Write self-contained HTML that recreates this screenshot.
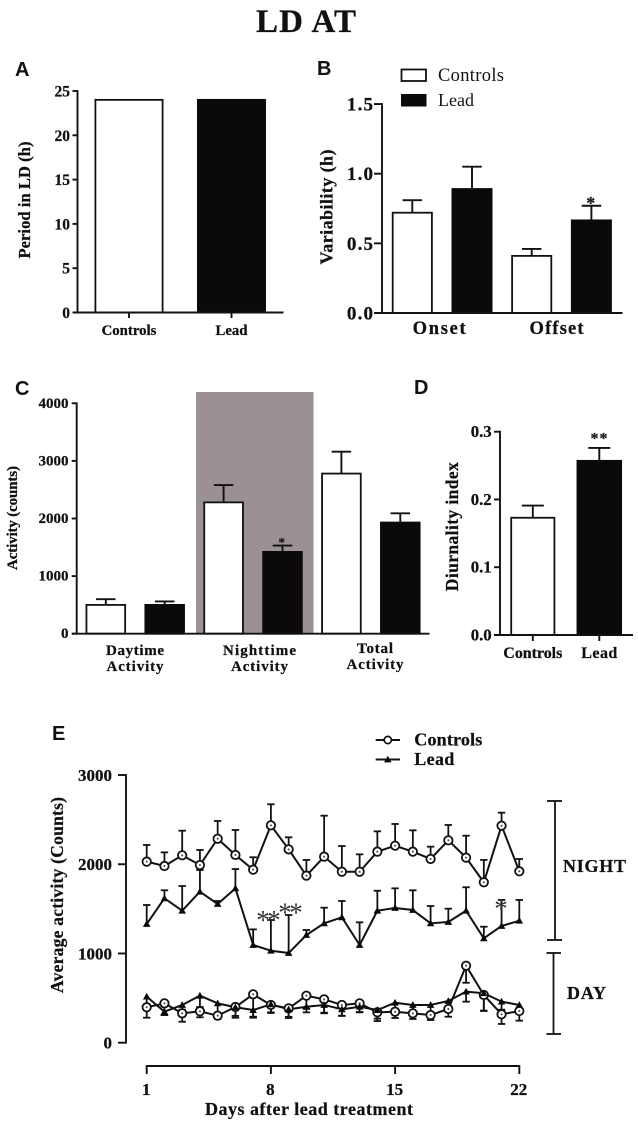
<!DOCTYPE html>
<html>
<head>
<meta charset="utf-8">
<title>LD AT</title>
<style>
html,body{margin:0;padding:0;background:#fff;width:638px;height:1125px;overflow:hidden}
svg{display:block;filter:blur(0.35px)}
text{font-family:"Liberation Serif",serif;fill:#111}
text[font-weight="700"]{stroke:#111;stroke-width:0.25px}
.letter{font-family:"Liberation Sans",sans-serif;font-weight:700;font-size:20px}
</style>
</head>
<body>
<svg id="fig" xmlns="http://www.w3.org/2000/svg" width="638" height="1125" viewBox="0 0 638 1125">
  <text x="306" y="32" text-anchor="middle" font-size="33" font-weight="700" textLength="100">LD AT</text>
  <g id="panelA"><text class="letter" x="15" y="76">A</text></g>
  <g id="panelB"><text class="letter" x="317" y="75">B</text></g>
  <g id="panelC">
    <rect x="196" y="392" width="117.500" height="242" fill="#9b9193"></rect>
    <text class="letter" x="15" y="395">C</text>
  </g>
  <g id="panelD"><text class="letter" x="414" y="394">D</text></g>
  <g id="panelE">
    <text class="letter" x="52" y="740">E</text>
    <g stroke="#111" stroke-width="1.8">
      <line x1="555" y1="801" x2="555" y2="940"></line>
      <line x1="547" y1="801" x2="562" y2="801"></line>
      <line x1="547" y1="940" x2="562" y2="940"></line>
    </g>
    <text x="563" y="872" font-size="18" font-weight="700" textLength="63">NIGHT</text>
    <g stroke="#111" stroke-width="1.8">
      <line x1="553.500" y1="953" x2="553.500" y2="1034"></line>
      <line x1="546.500" y1="953" x2="561" y2="953"></line>
      <line x1="546.500" y1="1034" x2="561" y2="1034"></line>
    </g>
    <text x="567" y="999" font-size="18" font-weight="700" textLength="39">DAY</text>
  </g>
</svg>
<script>
// Panel A data
const aCategories = ['Controls', 'Lead'];
const aValues = [24, 24];
const aTicks = ['0', '5', '10', '15', '20', '25'];
// Panel B data
const bGroups = ['Onset', 'Offset'];
const bValues = [0.72, 0.89, 0.41, 0.665];
const bUpper = [0.81, 1.05, 0.46, 0.77];
const bTicks = ['0.0', '0.5', '1.0', '1.5'];
// Panel C data
const cGroups = [['Daytime', 'Activity'], ['Nighttime', 'Activity'], ['Total', 'Activity']];
const cValues = [500, 500, 2280, 1420, 2780, 1930];
const cUpper = [600, 560, 2580, 1530, 3160, 2090];
const cTicks = ['0', '1000', '2000', '3000', '4000'];
// Panel D data
const dCategories = ['Controls', 'Lead'];
const dValues = [0.173, 0.257];
const dUpper = [0.191, 0.276];
const dTicks = ['0.0', '0.1', '0.2', '0.3'];
// Panel E data
const eDays = [1, 2, 3, 4, 5, 6, 7, 8, 9, 10, 11, 12, 13, 14, 15, 16, 17, 18, 19, 20, 21, 22];
const eDayTicks = ['1', '8', '15', '22'];
const eYTicks = ['0', '1000', '2000', '3000'];
const controlsNight = [2029, 1980, 2100, 1991, 2286, 2104, 1939, 2436, 2167, 1872, 2085, 1916, 1916, 2141, 2208, 2141, 2059, 2268, 2074, 1798, 2432, 1921];
const controlsNightUpper = [2216, 2133, 2376, 2160, 2485, 2384, 2078, 2672, 2302, 2048, 2544, 2204, 2111, 2369, 2451, 2380, 2197, 2440, 2320, 2048, 2578, 2059];
const leadNight = [1330, 1618, 1479, 1692, 1554, 1730, 1095, 1031, 1005, 1207, 1338, 1405, 1095, 1479, 1510, 1487, 1338, 1353, 1479, 1170, 1308, 1367];
const leadNightUpper = [1543, 1708, 1756, 1935, 1588, 1946, 1270, 1375, 1431, 1263, 1513, 1588, 1349, 1703, 1730, 1708, 1532, 1502, 1742, 1300, 1600, 1600];
const controlsDay = [397, 441, 329, 352, 303, 400, 542, 423, 385, 527, 486, 423, 441, 341, 347, 329, 310, 378, 863, 535, 318, 355];
const controlsDayLower = [280, 310, 235, 285, 266, 280, 280, 333, 277, 380, 336, 303, 344, 243, 277, 266, 254, 291, 672, 355, 210, 247];
const leadDay = [516, 347, 423, 527, 441, 397, 366, 430, 374, 403, 423, 374, 403, 366, 448, 423, 423, 467, 572, 554, 460, 423];
const leadDayLower = [430, 310, 370, 400, 320, 300, 291, 340, 290, 340, 330, 300, 340, 270, 380, 330, 340, 380, 460, 360, 370, 340];

const SVGNS = 'http://www.w3.org/2000/svg';
const INK = '#111';

function mk(tag, attrs, parent) {
  const el = document.createElementNS(SVGNS, tag);
  for (const k in attrs) el.setAttribute(k, attrs[k]);
  parent.appendChild(el);
  return el;
}
function drawLine(parent, x1, y1, x2, y2, name, width) {
  const el = mk('line', { x1: x1, y1: y1, x2: x2, y2: y2, stroke: INK, 'stroke-width': width || 1.9 }, parent);
  
  
  return el;
}
function drawText(parent, x, y, str, size, o, name) {
  o = o || {};
  const attrs = { x: x, y: y, 'font-size': size, 'text-anchor': o.anchor || 'middle', 'font-weight': o.weight || 700 };
  if (o.len) attrs.textLength = o.len;
  if (o.rotate) attrs.transform = 'rotate(-90 ' + x + ' ' + y + ')';
  const el = mk('text', attrs, parent);
  el.textContent = str;
  if (o.fill) el.style.fill = o.fill;
  
  
  return el;
}
function drawYAxis(parent, axisX, yFn, labels, tickLen, labelRight, size, baseOffset, len) {
  const vals = labels.map(Number);
  const top = yFn(Math.max.apply(null, vals));
  const bottom = yFn(Math.min.apply(null, vals));
  drawLine(parent, axisX, top - 0.9, axisX, bottom + 0.9, 'y-axis-line');
  labels.forEach(function (lab) {
    const y = yFn(Number(lab));
    drawLine(parent, axisX - tickLen, y, axisX, y, 'y-axis-tick');
    drawText(parent, labelRight, y + baseOffset, lab, size, { anchor: 'end', len: len ? len * lab.length : 0 }, 'y-axis-tick-label');
  });
}
function drawBar(parent, cx, width, yFn, value, upper, black, capWidth) {
  const y0 = yFn(0);
  const yv = yFn(value);
  if (upper !== null) {
    drawLine(parent, cx, yv, cx, yFn(upper), 'error-bar-stem');
    drawLine(parent, cx - capWidth / 2, yFn(upper), cx + capWidth / 2, yFn(upper), 'error-bar-cap');
  }
  const el = mk('rect', {
    x: cx - width / 2 + 0.9, y: yv, width: width - 1.8, height: y0 - yv,
    fill: black ? '#0b0a09' : '#fff', stroke: black ? '#0b0a09' : INK, 'stroke-width': 1.8
  }, parent);
  
  
}

/* ---------- Panel A ---------- */
const pA = document.getElementById('panelA');
const yA = function (v) { return 312.5 - v * 8.86; };
const xA = function (i) { return 129 + 102.5 * i; };
aValues.forEach(function (v, i) {
  drawBar(pA, xA(i), 69, yA, v, null, i === 1, 0);
  drawLine(pA, xA(i), 312.5, xA(i), 318, 'x-axis-tick');
  drawText(pA, xA(i), 335, aCategories[i], 14.8, {}, 'x-axis-category-label');
});
drawYAxis(pA, 77.5, yA, aTicks, 5, 70, 15.5, 5.5);
drawLine(pA, 72.5, 312.5, 283.5, 312.5, 'x-axis-line');
drawText(pA, 30, 200, 'Period in LD (h)', 16.5, { rotate: true, len: 117 }, 'y-axis-title');

/* ---------- Panel B ---------- */
const pB = document.getElementById('panelB');
const yB = function (v) { return 313 - v * 139.3; };
const xB = function (i) { return 412.3 + 59.7 * i; };
bValues.forEach(function (v, i) {
  drawBar(pB, xB(i), 41, yB, v, bUpper[i], i % 2 === 1, 19.5);
});
drawYAxis(pB, 382, yB, bTicks, 8, 373, 19, 6.5, 8.7);
drawLine(pB, 375, 313, 622.5, 313, 'x-axis-line');
bGroups.forEach(function (g, i) {
  drawText(pB, (xB(i * 2) + xB(i * 2 + 1)) / 2 - 3 + i * -2, 334, g, 18.5, { len: i ? 54 : 53 }, 'x-axis-group-label');
});
drawText(pB, 332.5, 207, 'Variability (h)', 18, { rotate: true, len: 115 }, 'y-axis-title');
drawText(pB, 590.7, 209, '*', 18, { fill: '#222' }, 'significance-star');
const bLegend1 = mk('rect', { x: 401.5, y: 69.5, width: 24.5, height: 11.5, fill: '#fff', stroke: INK, 'stroke-width': 1.8 }, pB);


const bLegend2 = mk('rect', { x: 401, y: 94, width: 25.5, height: 12.5, fill: '#0b0a09' }, pB);


drawText(pB, 438, 81, 'Controls', 18.5, { anchor: 'start', weight: 400, len: 66 }, 'legend-label-controls');
drawText(pB, 438, 106, 'Lead', 18, { anchor: 'start', weight: 400, len: 36 }, 'legend-label-lead');

/* ---------- Panel C ---------- */
const pC = document.getElementById('panelC');
const yC = function (v) { return 633.7 - v * 0.0576; };
const xC = function (i) { return 105.8 + 58.9 * i; };
cValues.forEach(function (v, i) {
  drawBar(pC, xC(i), 40.5, yC, v, cUpper[i], i % 2 === 1, 19.5);
});
drawYAxis(pC, 76.7, yC, cTicks, 5, 68.5, 15, 4.5);
drawLine(pC, 72, 633.7, 429.5, 633.7, 'x-axis-line');
const cLabelX = [135, 259.5, 375];
const cLabelY = [655, 655, 653];
cGroups.forEach(function (g, i) {
  drawText(pC, cLabelX[i], cLabelY[i], g[0], 15, { len: [58, 73, 36][i] }, 'x-axis-group-label');
  drawText(pC, cLabelX[i], cLabelY[i] + 16, g[1], 15, { len: 57 }, 'x-axis-group-label');
});
drawText(pC, 17, 518, 'Activity (counts)', 15, { rotate: true, len: 104 }, 'y-axis-title');
drawText(pC, 281.7, 546.5, '*', 13, { fill: '#222' }, 'significance-star');

/* ---------- Panel D ---------- */
const pD = document.getElementById('panelD');
const yD = function (v) { return 635 - v * 677.7; };
const xD = function (i) { return 532.8 + 66.5 * i; };
dValues.forEach(function (v, i) {
  drawBar(pD, xD(i), i ? 45.5 : 45, yD, v, dUpper[i], i === 1, 22);
  drawLine(pD, xD(i), 635, xD(i), 641, 'x-axis-tick');
  drawText(pD, xD(i), 658, dCategories[i], 16, { len: i ? 36 : 59 }, 'x-axis-category-label');
});
drawYAxis(pD, 500, yD, dTicks, 6, 491.7, 16.8, 5.5);
drawLine(pD, 494, 635, 633, 635, 'x-axis-line');
drawText(pD, 458, 526.7, 'Diurnality index', 17.5, { rotate: true, len: 129 }, 'y-axis-title');
drawText(pD, 599, 443.5, '**', 16, { fill: '#222', len: 17 }, 'significance-star');

/* ---------- Panel E ---------- */
const pE = document.getElementById('panelE');
const yE = function (v) { return 1042.7 - v * 0.08923; };
const xE = function (d) { return 146.7 + (d - 1) * 17.743; };

drawYAxis(pE, 126, yE, eYTicks, 8, 112, 17, 6, 0);
drawLine(pE, xE(1) - 0.9, 1066, xE(22) + 0.9, 1066, 'x-axis-line');
eDayTicks.forEach(function (lab) {
  const x = xE(Number(lab));
  drawLine(pE, x, 1066, x, 1074, 'x-axis-tick');
  drawText(pE, x - 0.5, 1095, lab, 17, {}, 'x-axis-tick-label');
});
drawText(pE, 309, 1115, 'Days after lead treatment', 18, { len: 208 }, 'x-axis-title');
drawText(pE, 63, 895, 'Average activity (Counts)', 17.5, { rotate: true, len: 196 }, 'y-axis-title');

function drawWhiskers(values, ends, name) {
  values.forEach(function (v, i) {
    const x = xE(eDays[i]);
    drawLine(pE, x, yE(v), x, yE(ends[i]), name + '-stem', 1.8);
    drawLine(pE, x - 3.7, yE(ends[i]), x + 3.7, yE(ends[i]), name + '-cap', 1.8);
  });
}
function drawSeriesLine(values, name) {
  const pts = values.map(function (v, i) { return xE(eDays[i]) + ',' + yE(v); }).join(' ');
  const el = mk('polyline', { points: pts, fill: 'none', stroke: INK, 'stroke-width': 2, 'stroke-linejoin': 'round' }, pE);
  
  
}
function drawCircle(cx, cy) {
  const c = mk('circle', { cx: cx, cy: cy, r: 4.2, fill: '#fff', stroke: INK, 'stroke-width': 1.8 }, pE);
  
  
  const d = mk('circle', { cx: cx, cy: cy, r: 1, fill: '#444' }, pE);
  
  
}
function drawTriangle(cx, cy) {
  const pts = (cx - 3.8) + ',' + (cy + 2.9) + ' ' + (cx + 3.8) + ',' + (cy + 2.9) + ' ' + cx + ',' + (cy - 3.8);
  const t = mk('polygon', { points: pts, fill: '#0b0a09' }, pE);
  
  
}

drawWhiskers(controlsDay, controlsDayLower, 'controls-day-error');
drawWhiskers(leadDay, leadDayLower, 'lead-day-error');
drawWhiskers(leadNight, leadNightUpper, 'lead-night-error');
drawWhiskers(controlsNight, controlsNightUpper, 'controls-night-error');
drawSeriesLine(controlsDay, 'controls-day-line');
drawSeriesLine(leadDay, 'lead-day-line');
drawSeriesLine(controlsNight, 'controls-night-line');
drawSeriesLine(leadNight, 'lead-night-line');
controlsDay.forEach(function (v, i) { drawCircle(xE(eDays[i]), yE(v)); });
leadDay.forEach(function (v, i) { drawTriangle(xE(eDays[i]), yE(v)); });
controlsNight.forEach(function (v, i) { drawCircle(xE(eDays[i]), yE(v)); });
leadNight.forEach(function (v, i) { drawTriangle(xE(eDays[i]), yE(v)); });

[[263, 916.7], [274, 916.7], [285, 909], [296, 909], [501, 905]].forEach(function (s) {
  drawText(pE, s[0], s[1] + 12.5, '*', 27, { fill: '#333', weight: 400 }, 'significance-star');
});

/* Panel E legend */
drawLine(pE, 375.7, 740, 400, 740, 'legend-line-controls');
const legendCircle = mk('circle', { cx: 387.8, cy: 740, r: 3.6, fill: '#fff', stroke: INK, 'stroke-width': 1.7 }, pE);


drawLine(pE, 375.7, 759.5, 400, 759.5, 'legend-line-lead');
drawTriangle(387.8, 759.5);
drawText(pE, 414.3, 745.7, 'Controls', 18, { anchor: 'start', len: 68 }, 'legend-label-controls');
drawText(pE, 414.3, 765, 'Lead', 18, { anchor: 'start', len: 40 }, 'legend-label-lead');
</script>
</body>
</html>
